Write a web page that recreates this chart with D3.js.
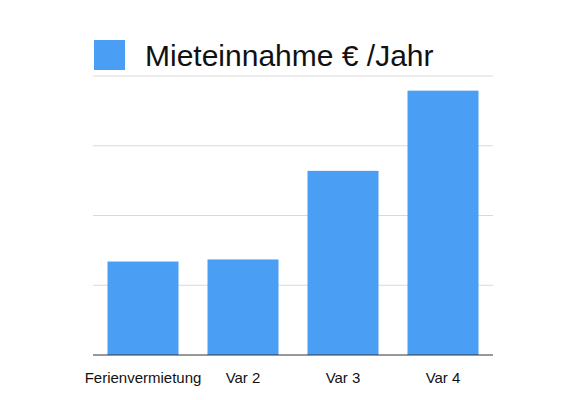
<!DOCTYPE html>
<html><head><meta charset="utf-8">
<script src="https://cdn.jsdelivr.net/npm/d3@7"></script>
<style>body{margin:0;background:#fff}</style></head>
<body><svg id="c" width="581" height="400"></svg>
<script>
const categories = ["Ferienvermietung", "Var 2", "Var 3", "Var 4"];
const values = [1.34, 1.37, 2.64, 3.79];
const gridTicks = [1, 2, 3, 4];
const seriesName = "Mieteinnahme € /Jahr";

const svg = d3.select("#c");
const font = "'Liberation Sans', Arial, Helvetica, sans-serif";
const m = {l: 93, r: 88, t: 76, b: 45};
const W = 581, H = 400;
const x = d3.scaleBand().domain(categories).range([m.l, W - m.r]).paddingInner(0.29).paddingOuter(0.145);
const y = d3.scaleLinear().domain([0, 4]).range([H - m.b, m.t]);

svg.append("g").selectAll("line").data(gridTicks).join("line")
  .attr("x1", m.l).attr("x2", W - m.r)
  .attr("y1", d => y(d)).attr("y2", d => y(d))
  .attr("stroke", "#d9d9d9").attr("stroke-width", 1);

svg.append("g").selectAll("rect").data(values).join("rect")
  .attr("x", (d, i) => x(categories[i])).attr("width", x.bandwidth())
  .attr("y", d => y(d)).attr("height", d => y(0) - y(d))
  .attr("fill", "#4a9ff5");

svg.append("line").attr("x1", m.l).attr("x2", W - m.r)
  .attr("y1", y(0)).attr("y2", y(0)).attr("stroke", "#333").attr("stroke-width", 1.2);

svg.append("g").selectAll("text").data(categories).join("text")
  .attr("x", d => x(d) + x.bandwidth() / 2).attr("y", 383)
  .attr("text-anchor", "middle").attr("font-family", font).attr("font-size", 15)
  .attr("fill", "#111").text(d => d);

svg.append("rect").attr("x", 94).attr("y", 40).attr("width", 31).attr("height", 30).attr("fill", "#4a9ff5");
svg.append("text").attr("x", 145).attr("y", 66).attr("font-family", font).attr("font-size", 30)
  .attr("fill", "#111").text(seriesName);
</script></body></html>
